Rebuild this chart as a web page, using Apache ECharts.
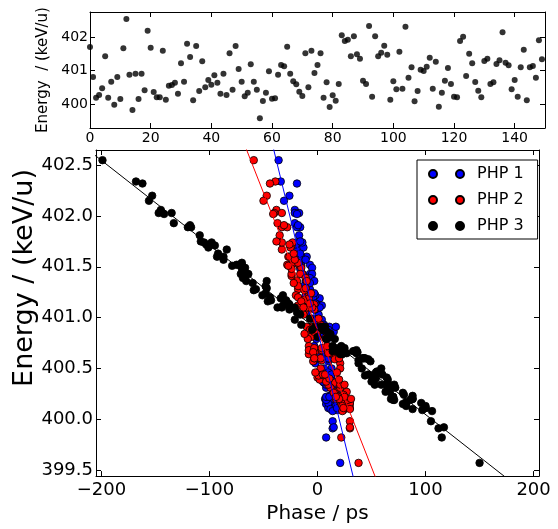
<!DOCTYPE html>
<html><head><meta charset="utf-8">
<script src="https://cdn.jsdelivr.net/npm/echarts@6/dist/echarts.min.js"></script>
<style>html,body{margin:0;padding:0;background:#fff}#c{width:558px;height:529px}</style>
</head><body><div id="c"></div>
<script>
const shotIndex = [0,1,2,3,4,5,6,7,8,9,10,11,12,13,14,15,16,17,18,19,20,21,22,23,24,25,26,27,28,29,
30,31,32,33,34,35,36,37,38,39,40,41,42,43,44,45,46,47,48,49,50,51,52,53,54,55,56,57,58,59,
60,61,62,63,64,65,66,67,68,69,70,71,72,73,74,75,76,77,78,79,80,81,82,83,84,85,86,87,88,89,
90,91,92,93,94,95,96,97,98,99,100,101,102,103,104,105,106,107,108,109,110,111,112,113,114,115,116,117,118,119,
120,121,122,123,124,125,126,127,128,129,130,131,132,133,134,135,136,137,138,139,140,141,142,143,144,145,146,147,148,149];

const energy = [401.71,400.81,400.19,400.27,400.47,401.43,400.19,400.67,399.98,400.81,
400.15,401.67,402.55,400.88,399.82,400.91,400.15,400.91,400.41,402.20,
401.69,400.36,400.20,400.20,401.60,400.13,400.55,400.57,400.64,400.31,
401.22,400.67,401.81,401.41,400.11,401.74,400.39,401.28,400.50,400.72,
400.58,400.86,400.64,400.31,400.91,400.27,401.52,400.43,401.74,401.05,
400.67,400.23,400.34,401.19,400.67,400.43,399.57,400.09,400.34,400.98,
400.16,400.17,400.88,401.17,401.13,401.72,400.91,400.68,400.59,400.37,
400.24,401.52,400.50,401.60,400.93,401.17,401.52,400.19,400.65,399.91,
400.26,400.10,400.60,402.06,401.89,401.93,401.43,402.03,401.49,401.36,
400.70,400.60,402.34,400.22,402.03,401.43,401.54,401.75,401.48,400.13,
400.68,400.44,401.57,400.46,402.32,400.79,401.10,400.08,400.39,401.03,
400.99,401.12,401.39,400.46,401.27,399.92,400.34,400.70,401.08,400.60,
400.22,400.20,401.89,402.02,400.84,401.51,401.22,400.66,400.40,400.20,
401.29,401.36,400.60,400.65,401.20,401.31,402.15,401.24,401.16,400.44,
400.72,400.22,401.10,401.63,400.11,401.10,401.14,400.79,401.91,401.34];

const phasePHP1 = [-15,7,10,15,2,-7,16,-1,14,10,
8,-18,-36,5,8,-4,18,11,4,-26,
-13,6,15,7,-10,13,-2,10,3,14,
-11,11,-17,-6,10,-19,4,-7,13,-3,
-3,15,8,8,17,17,-16,4,-14,-10,
10,11,15,2,1,3,21,18,8,4,
10,19,10,-10,0,-20,3,-3,9,5,
17,-7,6,-15,6,-4,-17,8,10,14,
14,12,12,-21,-16,-21,-14,-17,-5,-11,
12,-1,-34,15,-21,-5,-15,-16,-16,17,
8,4,-11,10,-19,9,-8,14,13,1,
-5,4,-7,1,-11,15,15,10,-2,2,
8,17,-19,-19,6,-15,-2,7,2,15,
-11,-3,10,-1,-4,-13,-31,-3,-8,13,
9,11,2,-16,18,-7,-2,-1,-18,-7];

const phasePHP2 = [-24,-6,26,16,2,-14,20,-2,30,8,
30,-33,-59,3,22,-6,22,7,0,-47,
-25,16,27,17,-27,28,21,-4,-8,12,
-8,12,-35,-24,30,-23,2,-18,21,-8,
4,-3,14,21,-10,27,-24,1,-33,-12,
-4,18,21,-8,9,6,38,24,10,-1,
30,23,-7,-15,-3,-26,3,-8,16,8,
24,-17,3,-26,3,-13,-28,28,11,30,
15,30,-3,-38,-33,-37,-24,-33,-15,-19,
-3,20,-39,19,-40,-16,-18,-38,-24,23,
4,5,-21,18,-44,-9,-10,23,20,-13,
1,-18,-11,-2,-12,30,25,4,-3,3,
25,31,-28,-41,-12,-27,-20,-4,11,20,
-11,-10,-3,10,-18,-18,-50,-6,-15,7,
9,17,-5,-22,24,-13,-7,8,-31,-22];

const phasePHP3 = [-95,0,86,63,55,-64,71,34,105,12,
82,-84,-199,-5,115,3,79,-2,64,-153,
-101,65,68,88,-93,100,38,49,23,72,
-32,14,-109,-68,100,-105,65,-57,59,14,
38,9,21,65,7,67,-73,44,-98,-19,
18,88,53,-34,33,50,150,97,71,-21,
96,82,5,-43,-26,-103,5,18,47,50,
80,-70,41,-87,-15,-29,-75,70,36,112,
79,88,44,-145,-117,-133,-65,-147,-67,-47,
20,42,-168,69,-135,-71,-70,-108,-70,82,
36,47,-87,57,-162,16,-37,106,52,-16,
-7,-32,-69,54,-59,117,59,25,-26,42,
70,87,-120,-142,12,-79,-51,37,54,88,
-47,-66,43,27,-44,-48,-156,-48,-46,60,
22,70,-21,-92,100,-33,-27,8,-118,-60];

// straight fit lines (phase, energy) endpoints, clipped by the plot area
const fitPHP1 = [[-45, 402.85], [37, 399.26]];
const fitPHP2 = [[-70, 402.77], [58, 399.31]];
const fitPHP3 = [[-220, 402.715], [220, 399.045]];

const seriesNames = ['PHP 1', 'PHP 2', 'PHP 3'];
const seriesColors = ['#0000ff', '#ff0000', '#000000'];

const topXTicks = [0, 20, 40, 60, 80, 100, 120, 140];
const topYTicks = [400, 401, 402];
const mainXTicks = [-200, -100, 0, 100, 200];
const mainYTicks = [399.5, 400.0, 400.5, 401.0, 401.5, 402.0, 402.5];

const FONT = 'DejaVu Sans';
const chart = echarts.init(document.getElementById('c'), null, {renderer: 'canvas'});

function axisBase(grid, pos, min, max, ticks, showLabel, fontSize, fmt, margin) {
  return {
    type: 'value', gridIndex: grid, position: pos, min: min, max: max,
    axisLine: {show: true, onZero: false, lineStyle: {color: '#000', width: 1}},
    axisTick: {show: true, inside: true, length: 5, customValues: ticks, lineStyle: {color: '#000', width: 1}},
    axisLabel: {show: showLabel, customValues: ticks, fontFamily: FONT, fontSize: fontSize, color: '#000', margin: margin, formatter: fmt},
    splitLine: {show: false}
  };
}
const minusFmt = v => String(v).replace('-', '\u2212');
const oneDec = v => Number(v).toFixed(1);

const twoDot = 'path://M0,4a4,4 0 1,0 8,0a4,4 0 1,0 -8,0zM27,4a4,4 0 1,0 8,0a4,4 0 1,0 -8,0z';

const topData = shotIndex.map((s, i) => [s, energy[i]]);
const phases = [phasePHP1, phasePHP2, phasePHP3];
const fits = [fitPHP1, fitPHP2, fitPHP3];

const series = [{
  type: 'scatter', xAxisIndex: 0, yAxisIndex: 0, data: topData,
  symbolSize: 6, itemStyle: {color: '#000'}, silent: true
}];
for (let k = 0; k < 3; k++) {
  series.push({
    name: seriesNames[k], type: 'scatter', xAxisIndex: 2, yAxisIndex: 2,
    data: energy.map((e, i) => [phases[k][i], e]),
    symbolSize: 7.5,
    itemStyle: {color: seriesColors[k], borderColor: '#000', borderWidth: 0.8, opacity: 1}
  });
  series.push({
    name: 'fit' + k, type: 'line', xAxisIndex: 2, yAxisIndex: 2,
    data: fits[k], showSymbol: false, symbol: 'none', clip: true,
    lineStyle: {color: seriesColors[k], width: 1}, silent: true
  });
}

chart.setOption({
  animation: false,
  backgroundColor: '#fff',
  grid: [
    {left: 90, top: 12, width: 455, height: 116},
    {left: 96, top: 150, width: 443, height: 336}
  ],
  xAxis: [
    axisBase(0, 'bottom', 0, 150, topXTicks, true, 14, null, 3),
    axisBase(0, 'top', 0, 150, topXTicks, false, 14, null, 3),
    Object.assign(axisBase(1, 'bottom', -205, 205, mainXTicks, true, 18, minusFmt, 5),
      {name: 'Phase / ps', nameLocation: 'middle', nameGap: 26,
       nameTextStyle: {fontFamily: FONT, fontSize: 20, color: '#000'}}),
    axisBase(1, 'top', -205, 205, mainXTicks, false, 18, null, 3)
  ],
  yAxis: [
    Object.assign(axisBase(0, 'left', 399.28, 402.76, topYTicks, true, 14, null, 2),
      {name: 'Energy  / (keV/u)', nameLocation: 'middle', nameGap: 27,
       nameTextStyle: {fontFamily: FONT, fontSize: 15, color: '#000'}}),
    axisBase(0, 'right', 399.28, 402.76, topYTicks, false, 14, null, 2),
    axisBase(1, 'left', 399.44, 402.65, mainYTicks, true, 18, oneDec, 3),
    axisBase(1, 'right', 399.44, 402.65, mainYTicks, false, 18, null, 3)
  ],
  graphic: [{
    type: 'text', x: 25, y: 278, rotation: Math.PI / 2,
    style: {text: 'Energy / (keV/u)', font: '27px "DejaVu Sans"', fill: '#000', textAlign: 'center', textVerticalAlign: 'middle'}
  }],
  legend: {
    data: seriesNames.map(n => ({name: n, icon: twoDot})),
    orient: 'vertical', left: 417, top: 160,
    itemWidth: 35, itemHeight: 8, itemGap: 10,
    padding: [6, 14, 5, 11],
    borderColor: '#000', borderWidth: 1, backgroundColor: '#fff',
    textStyle: {fontFamily: FONT, fontSize: 16, color: '#000', lineHeight: 16, padding: [0, 0, 0, 8]},
    selectedMode: false
  },
  series: series
});
</script></body></html>
